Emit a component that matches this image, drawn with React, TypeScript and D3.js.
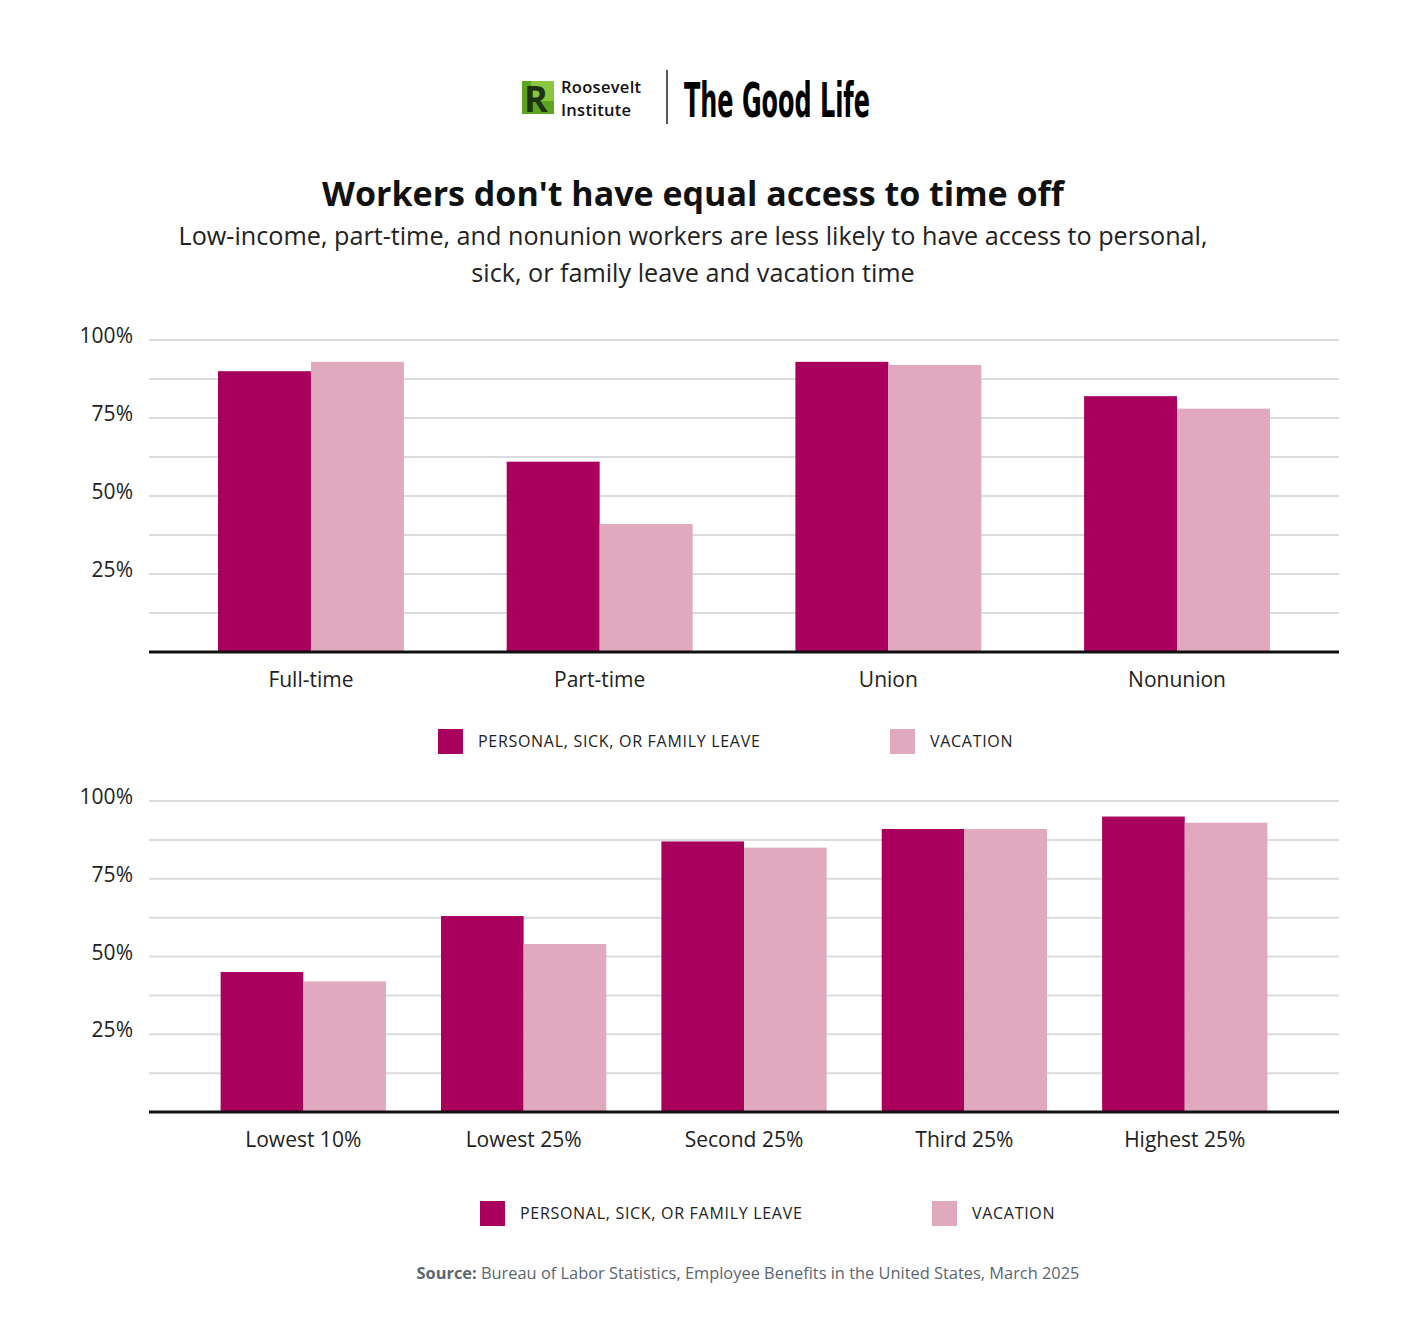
import React from 'react';
import * as d3 from 'd3';

// chart data
const categoriesTop = ['Full-time', 'Part-time', 'Union', 'Nonunion'];
const personalTop = [90, 61, 93, 82];
const vacationTop = [93, 41, 92, 78];

const categoriesBottom = ['Lowest 10%', 'Lowest 25%', 'Second 25%', 'Third 25%', 'Highest 25%'];
const personalBottom = [45, 63, 87, 91, 95];
const vacationBottom = [42, 54, 85, 91, 93];

const seriesNames = ['PERSONAL, SICK, OR FAMILY LEAVE', 'VACATION'];
const seriesColors = ['#a8005c', '#e0a9be'];
const tickLabels = [25, 50, 75, 100];
const gridValues = [12.5, 25, 37.5, 50, 62.5, 75, 87.5, 100];

const FONT = '"Open Sans", Lato, sans-serif';

const Panel = ({ categories, personal, vacation, top, bottom, padInner, padOuter, legendY, legendX }) => {
  const x0 = 149;
  const x1 = 1339;
  const x = d3.scaleBand().domain(categories).range([x0, x1]).paddingInner(padInner).paddingOuter(padOuter);
  const xs = d3.scaleBand().domain(seriesNames).range([0, x.bandwidth()]).padding(0);
  const y = d3.scaleLinear().domain([0, 100]).range([bottom, top]);
  const rows = categories.map((c, i) => ({ cat: c, values: [personal[i], vacation[i]] }));

  return (
    <g>
      {gridValues.map(v => (
        <line key={v} x1={x0} x2={x1} y1={y(v)} y2={y(v)} stroke="#d9dcde" strokeWidth={2} />
      ))}
      {tickLabels.map(v => (
        <text key={v} x={133} y={y(v) + 3} textAnchor="end" fontSize={21} fill="#222" fontFamily={FONT}>
          {v}%
        </text>
      ))}
      {rows.map(r => (
        <g key={r.cat} transform={`translate(${x(r.cat)},0)`}>
          {r.values.map((v, j) => (
            <rect key={j} x={xs(seriesNames[j])} y={y(v)} width={xs.bandwidth()} height={y(0) - y(v)} fill={seriesColors[j]} />
          ))}
          <text x={x.bandwidth() / 2} y={bottom + 35} textAnchor="middle" fontSize={21} fill="#222" fontFamily={FONT}>
            {r.cat}
          </text>
        </g>
      ))}
      <line x1={x0} x2={x1} y1={bottom} y2={bottom} stroke="#111" strokeWidth={3} />
      {seriesNames.map((s, j) => (
        <g key={s} transform={`translate(${legendX[j]},${legendY})`}>
          <rect x={0} y={0} width={25} height={25} fill={seriesColors[j]} />
          <text x={40} y={18} fontSize={16} letterSpacing={0.7} fill="#222" fontFamily={FONT}>{s}</text>
        </g>
      ))}
    </g>
  );
};

const App = () => {
  return (
    <svg width={1418} height={1332} style={{ position: 'absolute', left: 0, top: 0, background: '#fff' }}>
      {/* logo */}
      <g>
        <rect x={522} y={81} width={32} height={33} fill="#5da420" />
        <rect x={531} y={81} width={23} height={20} fill="#8cc63f" />
        <text x={524} y={112} fontSize={36} fontWeight={700} fill="#1e3310" fontFamily={FONT}>R</text>
        <text x={561} y={93} fontSize={16.5} fontWeight={600} letterSpacing={0.3} fill="#111" fontFamily={FONT}>Roosevelt</text>
        <text x={561} y={115.5} fontSize={16.5} fontWeight={600} letterSpacing={0.3} fill="#111" fontFamily={FONT}>Institute</text>
        <line x1={667} x2={667} y1={70} y2={124} stroke="#222" strokeWidth={1.5} />
        <text x={684} y={117} fontSize={48} fontWeight={700} fill="#000" textLength={186} lengthAdjust="spacingAndGlyphs"
          fontFamily={'"Liberation Sans Narrow", "DejaVu Sans Condensed", sans-serif'}>The Good Life</text>
      </g>
      <text x={693} y={206} textAnchor="middle" fontSize={34} fontWeight={700} fill="#111" fontFamily={FONT}>
        Workers don't have equal access to time off
      </text>
      <text x={693} y={245} textAnchor="middle" fontSize={25.2} fill="#222" fontFamily={FONT}>
        Low-income, part-time, and nonunion workers are less likely to have access to personal,
      </text>
      <text x={693} y={282} textAnchor="middle" fontSize={25.2} fill="#222" fontFamily={FONT}>
        sick, or family leave and vacation time
      </text>

      <Panel categories={categoriesTop} personal={personalTop} vacation={vacationTop}
        top={340} bottom={652} padInner={0.356} padOuter={0.239} legendY={729} legendX={[438, 890]} />
      <Panel categories={categoriesBottom} personal={personalBottom} vacation={vacationBottom}
        top={801} bottom={1112} padInner={0.25} padOuter={0.325} legendY={1201} legendX={[480, 932]} />

      <text x={748} y={1279} textAnchor="middle" fontSize={16.4} fill="#5b6670" fontFamily={FONT}>
        <tspan fontWeight={700}>Source:</tspan> Bureau of Labor Statistics, Employee Benefits in the United States, March 2025
      </text>
    </svg>
  );
};

export default App;
